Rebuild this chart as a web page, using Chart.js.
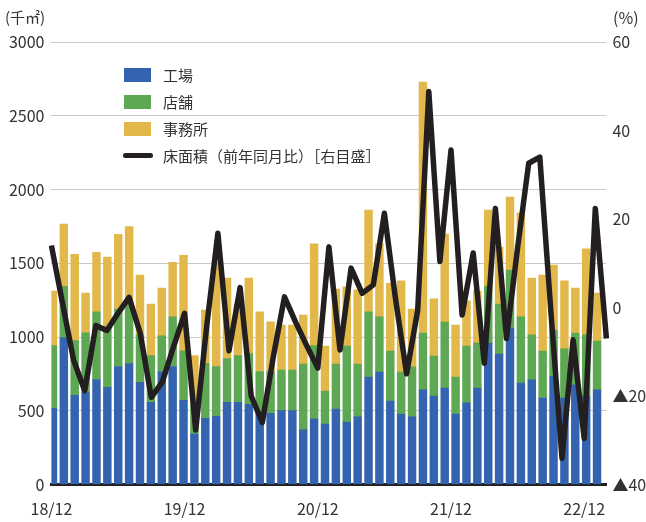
<!DOCTYPE html>
<html lang="ja">
<head>
<meta charset="utf-8">
<script src="https://cdn.jsdelivr.net/npm/chart.js@4.4.1/dist/chart.umd.min.js"></script>
<style>
  html, body { margin:0; padding:0; background:#fff; }
  #wrap { position:relative; width:646px; height:522px; font-family:"Noto Sans CJK JP", sans-serif; color:#333; }
  .unit { position:absolute; top:8px; font-size:15px; line-height:18px; }
  #legend { position:absolute; left:124px; top:61px; font-size:15px; }
  #legend div { height:27px; display:flex; align-items:center; white-space:nowrap; }
  #legend i { display:inline-block; width:27px; height:14px; margin-right:12px; }
  #legend i.line { height:5px; border-radius:3px; width:30px; margin-left:-1px; margin-right:10px; }
</style>
</head>
<body>
<div id="wrap">
  <canvas id="c" width="646" height="522"></canvas>
  <span class="unit" style="left:5px">(千㎡)</span>
  <span class="unit" style="left:613px;font-size:16px">(%)</span>
  <div id="legend"></div>
</div>
<script>
// 月次 18/12 〜 23/02
const months = [
  "18/12",
  "19/01","19/02","19/03","19/04","19/05","19/06","19/07","19/08","19/09","19/10","19/11","19/12",
  "20/01","20/02","20/03","20/04","20/05","20/06","20/07","20/08","20/09","20/10","20/11","20/12",
  "21/01","21/02","21/03","21/04","21/05","21/06","21/07","21/08","21/09","21/10","21/11","21/12",
  "22/01","22/02","22/03","22/04","22/05","22/06","22/07","22/08","22/09","22/10","22/11","22/12",
  "23/01","23/02"
];
// 千㎡
const factory = [516,995,604,624,712,658,800,820,692,557, 766,800,570,341,449,463,557,557,543,483,
                 483,501,501,370,444,410,512,424,458,729, 763,566,478,458,641,600,654,478,553,654,
                 959,885,1061,688,709,586,731,586,675,600,641];
const shop    = [425,348,371,405,458,411,390,404,323,317, 242,336,337,196,371,337,296,317,344,283,
                 283,275,275,447,497,224,305,515,359,441, 373,339,285,339,386,271,448,251,386,306,
                 387,339,393,448,305,319,316,333,352,414,332];
const office  = [370,422,586,269,404,472,506,525,404,350, 324,371,647,337,363,707,546,350,512,404,
                 337,305,305,332,690,305,508,401,503,691, 495,459,617,393,1702,387,596,352,305,352,
                 515,386,495,705,386,515,441,461,305,583,325];
// 床面積 前年同月比 (%)
const yoy     = [14.0,1.0,-11.9,-18.8,-4.1,-5.2,-1.3,2.3,-5.8,-20.3, -16.8,-8.9,-1.3,-27.7,-4.0,16.8,-9.8,4.5,-20.0,-26.0,
                 -11.0,2.4,-3.3,-8.6,-13.7,13.7,-9.6,8.9,3.2,5.1, 21.3,2.0,-15.0,-0.6,48.8,10.4,35.6,-1.7,12.3,-12.6,
                 22.4,-7.0,13.5,32.6,34.0,-1.0,-34.1,-7.3,-29.6,22.4,-7.0];

const leftTicks = { min: 0, max: 3000, step: 500 };
const rightTicks = { min: -40, max: 60, step: 20 };

Chart.defaults.font.family = '"Noto Sans CJK JP", sans-serif';
Chart.defaults.font.size = 16;
Chart.defaults.color = "#333";

const datasets = [
  { label: "工場",   data: factory, backgroundColor: "#3464b0", order: 1 },
  { label: "店舗",   data: shop,    backgroundColor: "#5ea854", order: 1 },
  { label: "事務所", data: office,  backgroundColor: "#e3b84a", order: 1 },
  { type: "line", label: "床面積（前年同月比）［右目盛］", data: yoy, xAxisID: "x2", yAxisID: "y2",
    borderColor: "#231f20", borderWidth: 5.5, pointRadius: 0, tension: 0, borderJoinStyle: "round", order: 0 },
];

new Chart(document.getElementById("c"), {
  type: "bar",
  data: { labels: months, datasets },
  options: {
    responsive: false, animation: false,
    layout: { padding: { top: 42, left: 0, right: 0, bottom: 0 } },
    datasets: { bar: { barThickness: 7.8 } },
    plugins: { legend: { display: false }, tooltip: { enabled: false } },
    scales: {
      x: { stacked: true, display: false, offset: true },
      x2: {
        type: "category", position: "bottom", offset: false, z: 1,
        grid: { display: false, drawTicks: false },
        border: { display: true, color: "#231f20", width: 3 },
        ticks: { autoSkip: false, maxRotation: 0, padding: 15,
                 callback: (v, i) => months[i].endsWith("/12") ? months[i] : "" },
        afterFit: s => { s.height = 37.5; },
      },
      y: {
        stacked: true, position: "left", min: leftTicks.min, max: leftTicks.max,
        grid: { color: "#c8c8c8", lineWidth: 1, drawTicks: false },
        border: { display: false },
        ticks: { stepSize: leftTicks.step, padding: 7, callback: v => String(v) },
        afterFit: s => { s.width = 51.4; },
      },
      y2: {
        position: "right", min: rightTicks.min, max: rightTicks.max,
        grid: { display: false, drawTicks: false },
        border: { display: false },
        ticks: { stepSize: rightTicks.step, padding: 6, callback: v => v < 0 ? "▲" + (-v) : String(v) },
        afterFit: s => { s.width = 39.6; },
      },
    },
  },
});

// 凡例
document.getElementById("legend").innerHTML = datasets.map(d =>
  d.type === "line"
    ? `<div><i class="line" style="background:${d.borderColor}"></i>${d.label}</div>`
    : `<div><i style="background:${d.backgroundColor}"></i>${d.label}</div>`
).join("");
</script>
</body>
</html>
